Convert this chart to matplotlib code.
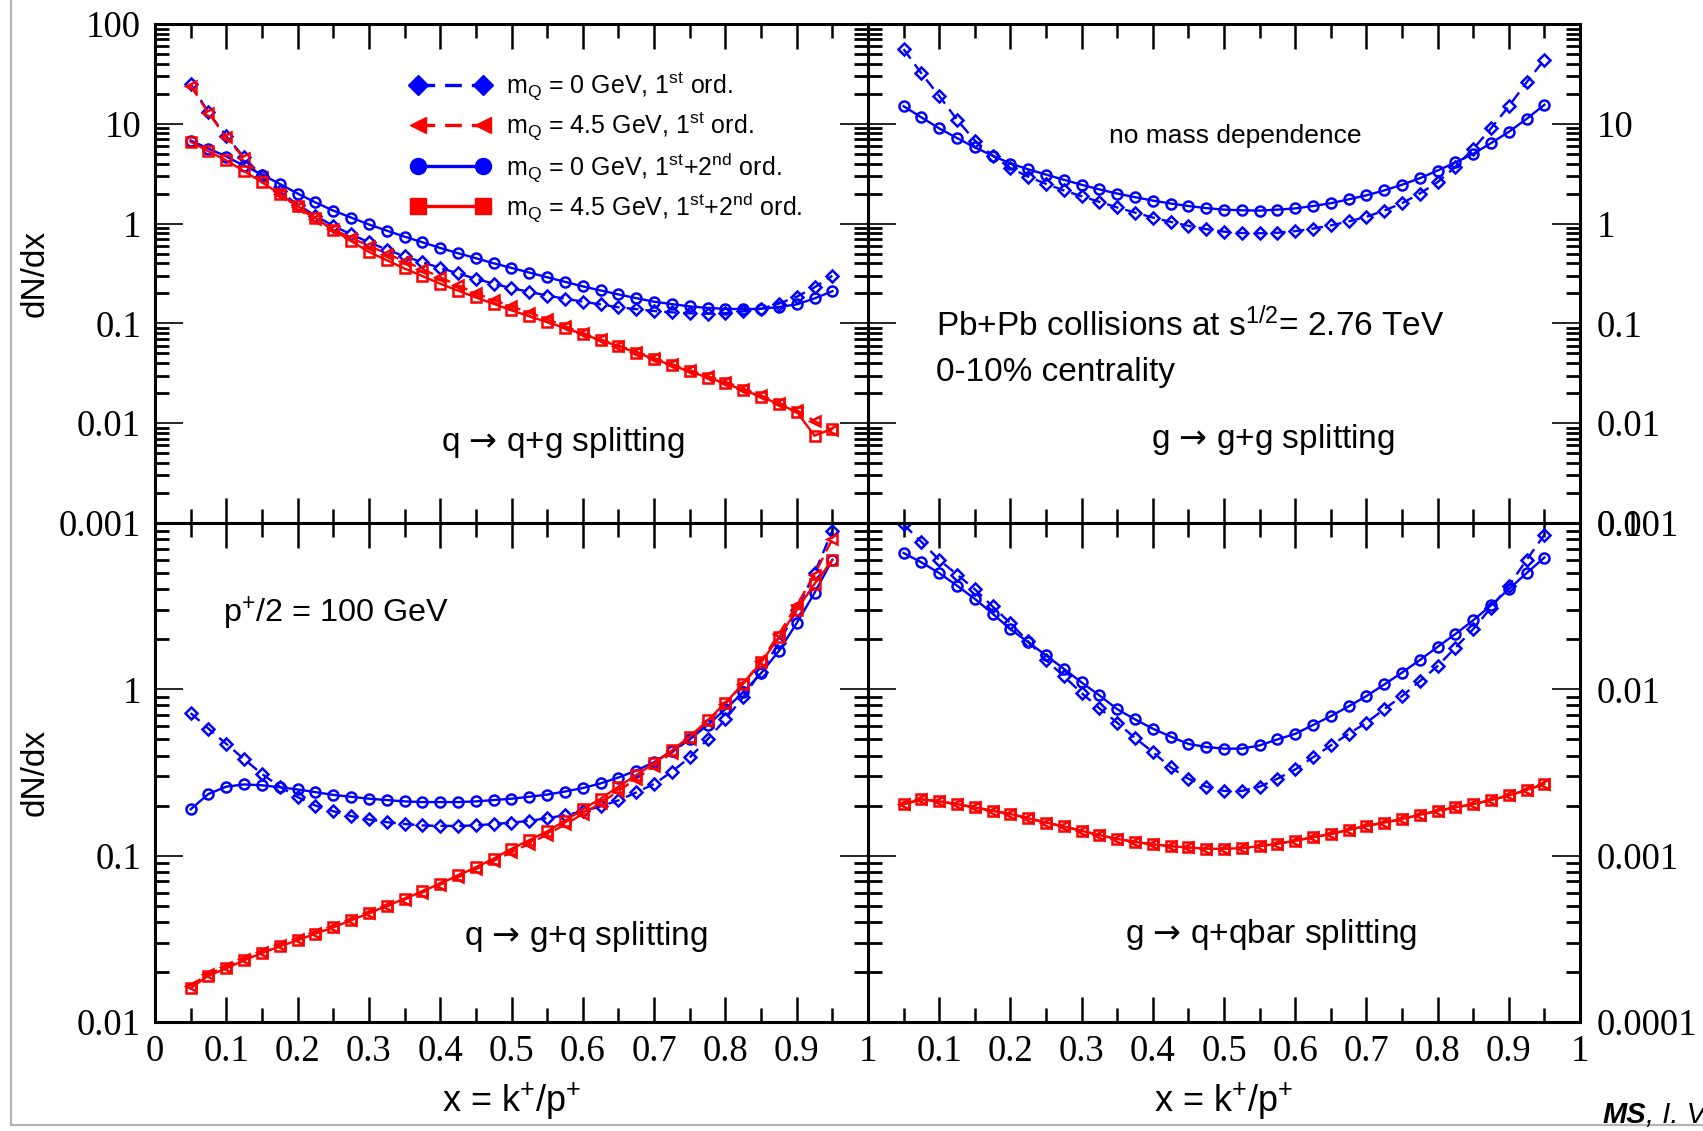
import numpy as np
import matplotlib
matplotlib.use("Agg")
import matplotlib.pyplot as plt
from matplotlib.lines import Line2D
from matplotlib.ticker import LogLocator, MultipleLocator, FuncFormatter, NullFormatter

plt.rcParams["font.family"] = ["Liberation Sans", "DejaVu Sans"]
plt.rcParams["mathtext.fontset"] = "custom"
plt.rcParams["mathtext.rm"] = "Liberation Sans"
plt.rcParams["mathtext.it"] = "Liberation Sans:italic"
plt.rcParams["mathtext.bf"] = "Liberation Sans:bold"
plt.rcParams["mathtext.sf"] = "DejaVu Sans"

# momentum fraction grid
x = [0.05, 0.075, 0.1, 0.125, 0.15, 0.175, 0.2, 0.225, 0.25, 0.275, 0.3, 0.325,
     0.35, 0.375, 0.4, 0.425, 0.45, 0.475, 0.5, 0.525, 0.55, 0.575, 0.6, 0.625,
     0.65, 0.675, 0.7, 0.725, 0.75, 0.775, 0.8, 0.825, 0.85, 0.875, 0.9, 0.925, 0.95]

# q -> q+g
qqg_m0_1st = [25, 13, 7.5, 4.6, 3.0, 2.1, 1.55, 1.2, 0.95, 0.78, 0.65, 0.55, 0.47, 0.41,
              0.36, 0.317, 0.28, 0.25, 0.225, 0.207, 0.19, 0.177, 0.165, 0.155, 0.145,
              0.139, 0.133, 0.129, 0.126, 0.125, 0.127, 0.132, 0.14, 0.158, 0.185, 0.23, 0.30]
qqg_m45_1st = [24, 12.8, 7.3, 4.5, 2.9, 2.0, 1.45, 1.12, 0.88, 0.72, 0.6, 0.5, 0.42, 0.35,
               0.29, 0.24, 0.2, 0.172, 0.148, 0.128, 0.11, 0.094, 0.08, 0.069, 0.06, 0.052,
               0.045, 0.039, 0.034, 0.0297, 0.026, 0.0222, 0.019, 0.016, 0.0135, 0.0105, 0.0085]
qqg_m0_12 = [6.8, 5.65, 4.7, 3.8, 3.1, 2.5, 2.0, 1.63, 1.35, 1.15, 0.98, 0.85, 0.74, 0.65,
             0.57, 0.505, 0.45, 0.40, 0.36, 0.323, 0.29, 0.261, 0.235, 0.214, 0.195, 0.179,
             0.165, 0.156, 0.148, 0.143, 0.14, 0.139, 0.14, 0.146, 0.155, 0.178, 0.21]
qqg_m45_12 = [6.6, 5.3, 4.3, 3.35, 2.6, 1.98, 1.5, 1.14, 0.86, 0.67, 0.52, 0.43, 0.355, 0.298,
              0.25, 0.213, 0.182, 0.157, 0.135, 0.118, 0.103, 0.09, 0.078, 0.068, 0.059, 0.051,
              0.044, 0.038, 0.033, 0.0287, 0.025, 0.0215, 0.0185, 0.0155, 0.013, 0.0075, 0.0088]

# g -> g+g (identical for both masses)
ggg_1st = [56, 32, 19, 11, 6.8, 4.8, 3.6, 2.95, 2.5, 2.15, 1.88, 1.65, 1.45, 1.29, 1.15, 1.04,
           0.95, 0.88, 0.83, 0.805, 0.8, 0.81, 0.84, 0.89, 0.96, 1.05, 1.17, 1.35, 1.6, 2.0,
           2.6, 3.7, 5.6, 9.0, 15, 26, 44]
ggg_12 = [15, 11.6, 9.0, 7.2, 5.8, 4.8, 4.0, 3.5, 3.1, 2.75, 2.45, 2.2, 2.0, 1.84, 1.7, 1.59,
          1.5, 1.43, 1.38, 1.36, 1.35, 1.38, 1.42, 1.5, 1.6, 1.75, 1.92, 2.15, 2.45, 2.85,
          3.4, 4.1, 5.0, 6.4, 8.3, 11.2, 15.5]

# q -> g+q
qgq_m0_1st = [0.72, 0.58, 0.47, 0.38, 0.31, 0.26, 0.225, 0.2, 0.185, 0.173, 0.165, 0.159,
              0.155, 0.152, 0.151, 0.151, 0.152, 0.155, 0.158, 0.162, 0.168, 0.175, 0.185,
              0.198, 0.215, 0.24, 0.27, 0.32, 0.39, 0.5, 0.66, 0.9, 1.28, 1.9, 3.0, 5.0, 9.0]
qgq_m45_1st = [0.0165, 0.0195, 0.0215, 0.024, 0.0265, 0.029, 0.0315, 0.0345, 0.0375, 0.041,
               0.045, 0.0495, 0.0545, 0.06, 0.067, 0.074, 0.083, 0.093, 0.105, 0.118, 0.134,
               0.154, 0.178, 0.207, 0.245, 0.29, 0.345, 0.415, 0.505, 0.635, 0.82, 1.08, 1.48,
               2.15, 3.2, 4.9, 8.0]
qgq_m0_12 = [0.19, 0.235, 0.26, 0.268, 0.265, 0.258, 0.25, 0.241, 0.232, 0.226, 0.22, 0.216,
             0.212, 0.21, 0.21, 0.21, 0.212, 0.216, 0.22, 0.226, 0.233, 0.243, 0.255, 0.272,
             0.295, 0.325, 0.365, 0.425, 0.5, 0.61, 0.76, 0.96, 1.25, 1.7, 2.5, 3.8, 6.0]
qgq_m45_12 = [0.016, 0.019, 0.021, 0.0235, 0.026, 0.0285, 0.031, 0.034, 0.037, 0.041, 0.045,
              0.05, 0.055, 0.061, 0.068, 0.076, 0.085, 0.096, 0.11, 0.124, 0.14, 0.162, 0.19,
              0.22, 0.26, 0.305, 0.36, 0.43, 0.52, 0.65, 0.83, 1.08, 1.45, 2.05, 3.0, 4.3, 6.0]

# g -> q+qbar
gqq_m0_1st = [0.098, 0.077, 0.06, 0.049, 0.04, 0.0315, 0.025, 0.0194, 0.015, 0.012, 0.0095,
              0.0077, 0.0063, 0.0051, 0.0042, 0.0034, 0.0029, 0.0026, 0.00245, 0.00245, 0.0026,
              0.0029, 0.0033, 0.0039, 0.0046, 0.0054, 0.0063, 0.0076, 0.0091, 0.0112, 0.0138,
              0.0178, 0.023, 0.031, 0.042, 0.06, 0.085]
gqq_m0_12 = [0.066, 0.058, 0.05, 0.042, 0.035, 0.0285, 0.023, 0.0192, 0.016, 0.0133, 0.011,
             0.0092, 0.0076, 0.0066, 0.0058, 0.0052, 0.0047, 0.0045, 0.0044, 0.0044, 0.0046,
             0.005, 0.0054, 0.0061, 0.0069, 0.0079, 0.0091, 0.0107, 0.0126, 0.015, 0.018,
             0.0215, 0.026, 0.032, 0.04, 0.05, 0.062]
gqq_m45 = [0.00204, 0.00218, 0.00212, 0.00204, 0.00195, 0.00186, 0.00178, 0.00168, 0.00158,
           0.0015, 0.00141, 0.00133, 0.00126, 0.00121, 0.00117, 0.00114, 0.00112, 0.0011,
           0.0011, 0.00111, 0.00114, 0.00118, 0.00123, 0.00129, 0.00135, 0.00143, 0.00151,
           0.00158, 0.00166, 0.00176, 0.00186, 0.00195, 0.00204, 0.00216, 0.0023, 0.00248,
           0.0027]

legend_labels = [
    r"m$_{\mathregular{Q}}$ = 0 GeV, 1$^{\mathregular{st}}$ ord.",
    r"m$_{\mathregular{Q}}$ = 4.5 GeV, 1$^{\mathregular{st}}$ ord.",
    r"m$_{\mathregular{Q}}$ = 0 GeV, 1$^{\mathregular{st}}$+2$^{\mathregular{nd}}$ ord.",
    r"m$_{\mathregular{Q}}$ = 4.5 GeV, 1$^{\mathregular{st}}$+2$^{\mathregular{nd}}$ ord.",
]

STYLE = {
    "m0_1st": dict(color="#0000ff", ls=(0, (5, 3)), marker="D", ms=6.2),
    "m45_1st": dict(color="#ff0000", ls=(0, (5, 3)), marker="<", ms=7.5),
    "m0_12": dict(color="#0000ff", ls="-", marker="o", ms=7.2),
    "m45_12": dict(color="#ff0000", ls="-", marker="s", ms=7.0),
}

W, H = 1703, 1131


def box(l, t, r, b):
    return [l / W, 1 - b / H, (r - l) / W, (b - t) / H]


fig = plt.figure(figsize=(W / 100, H / 100), dpi=100)
fig.patch.set_facecolor("white")

ax_tl = fig.add_axes(box(155, 24, 868, 523))
ax_tr = fig.add_axes(box(868, 24, 1580, 523))
ax_bl = fig.add_axes(box(155, 523, 868, 1022))
ax_br = fig.add_axes(box(868, 523, 1580, 1022))

SERIF = "Liberation Serif"
TICK_FS = 26.5


def log_label(v, top_skip=None):
    if top_skip is not None and np.isclose(v, top_skip):
        return ""
    if v >= 1:
        return f"{v:.0f}"
    return f"{v:.{int(round(-np.log10(v)))}f}"


def style_axes(ax, ylim, label_side, skip_top, xlabels, skip_zero):
    ax.set_xlim(0, 1)
    ax.set_yscale("log")
    ax.set_ylim(*ylim)
    for sp in ax.spines.values():
        sp.set_linewidth(2.2)
    ax.xaxis.set_major_locator(MultipleLocator(0.1))
    ax.xaxis.set_minor_locator(MultipleLocator(0.05))
    ax.yaxis.set_major_locator(LogLocator(base=10, numticks=12))
    ax.yaxis.set_minor_locator(LogLocator(base=10, subs=np.arange(2, 10), numticks=12))
    ax.yaxis.set_minor_formatter(NullFormatter())
    ax.tick_params(which="both", direction="in", top=True, bottom=True, left=True, right=True)
    ax.tick_params(axis="x", which="major", length=18, width=1.8)
    ax.tick_params(axis="x", which="minor", length=10, width=1.8)
    ax.tick_params(axis="y", which="major", length=20, width=1.2)
    ax.tick_params(axis="y", which="minor", length=10, width=2.0)
    top_val = ylim[1] if skip_top else None
    ax.yaxis.set_major_formatter(FuncFormatter(lambda v, p: log_label(v, top_val)))
    if label_side == "left":
        ax.tick_params(axis="y", labelleft=True, labelright=False, pad=10)
    else:
        ax.tick_params(axis="y", labelleft=False, labelright=True, pad=12)
    if xlabels:
        def xfmt(v, p):
            if skip_zero and abs(v) < 1e-9:
                return ""
            if abs(v) < 1e-9:
                return "0"
            if abs(v - 1) < 1e-9:
                return "1"
            return f"{v:.1f}"
        ax.xaxis.set_major_formatter(FuncFormatter(xfmt))
        ax.tick_params(axis="x", labelbottom=True, pad=9)
    else:
        ax.tick_params(axis="x", labelbottom=False)
    ax.tick_params(labelsize=TICK_FS)
    for lab in ax.get_xticklabels() + ax.get_yticklabels():
        lab.set_fontfamily(SERIF)


def draw(ax, pairs):
    for key, y in pairs:
        st = STYLE[key]
        ax.plot(x, y, color=st["color"], ls=st["ls"], lw=1.7, marker=st["marker"],
                ms=st["ms"], mfc="none", mec=st["color"], mew=1.8)


draw(ax_tl, [("m0_1st", qqg_m0_1st), ("m45_1st", qqg_m45_1st),
             ("m0_12", qqg_m0_12), ("m45_12", qqg_m45_12)])
draw(ax_tr, [("m0_1st", ggg_1st), ("m0_12", ggg_12)])
draw(ax_bl, [("m0_1st", qgq_m0_1st), ("m45_1st", qgq_m45_1st),
             ("m0_12", qgq_m0_12), ("m45_12", qgq_m45_12)])
draw(ax_br, [("m0_1st", gqq_m0_1st), ("m45_1st", gqq_m45),
             ("m0_12", gqq_m0_12), ("m45_12", gqq_m45)])

style_axes(ax_tl, (1e-3, 1e2), "left", False, False, False)
style_axes(ax_tr, (1e-3, 1e2), "right", True, False, False)
style_axes(ax_bl, (1e-2, 1e1), "left", True, True, False)
style_axes(ax_br, (1e-4, 1e-1), "right", False, True, True)

for ax in (ax_tl, ax_tr, ax_bl, ax_br):
    for lab in ax.get_xticklabels() + ax.get_yticklabels():
        lab.set_fontfamily(SERIF)

# axis titles
for ax in (ax_tl, ax_bl):
    ax.set_ylabel("dN/dx", fontsize=24)
    ax.yaxis.set_label_coords(-0.147, 0.5)
for ax in (ax_bl, ax_br):
    ax.set_xlabel(r"x = k$^{\mathregular{+}}$/p$^{\mathregular{+}}$", fontsize=26)
    ax.xaxis.set_label_coords(0.5, -0.118)

# legend
LEG_FS = 18
handles = []
for key in ("m0_1st", "m45_1st", "m0_12", "m45_12"):
    st = STYLE[key]
    handles.append(Line2D([], [], color=st["color"], ls=st["ls"], lw=2.4,
                          marker=st["marker"], ms=st["ms"] * 1.6, mfc=st["color"],
                          mec=st["color"], mew=1.0))
ax_tl.legend(handles, legend_labels, loc="upper left", bbox_to_anchor=(410 / W, 1 - 71 / H),
             bbox_transform=fig.transFigure, frameon=False, fontsize=LEG_FS, numpoints=2,
             handlelength=3.2, handletextpad=0.62, labelspacing=0.28, borderpad=0,
             borderaxespad=0)


def ftext(px, py, s, **kw):
    fig.text(px / W, 1 - py / H, s, **kw)


ARROW = r"$\mathsf{→}$"
ftext(563, 442, f"q {ARROW} q+g splitting", fontsize=24, ha="center", va="center")
ftext(1235, 136, "no mass dependence", fontsize=19, ha="center", va="center")
ftext(936, 325, r"Pb+Pb collisions at s$^{\mathregular{1/2}}$= 2.76 TeV", fontsize=24,
      ha="left", va="center")
ftext(936, 373, "0-10% centrality", fontsize=24, ha="left", va="center")
ftext(1273, 440, f"g {ARROW} g+g splitting", fontsize=24, ha="center", va="center")
ftext(223, 614, r"p$^{\mathregular{+}}$/2 = 100 GeV", fontsize=23.3, ha="left", va="center")
ftext(586, 937, f"q {ARROW} g+q splitting", fontsize=24, ha="center", va="center")
ftext(1271, 935, f"g {ARROW} q+qbar splitting", fontsize=24, ha="center", va="center")

# page frame lines
fig.add_artist(Line2D([11 / W, 11 / W], [1, 1 - 1125 / H], color="#b4b4b4", lw=1.6,
                      transform=fig.transFigure))
fig.add_artist(Line2D([11 / W, 1], [1 - 1125 / H, 1 - 1125 / H], color="#b4b4b4", lw=1.6,
                      transform=fig.transFigure))

t1 = fig.text(1602 / W, 1 - 1115 / H, "MS", fontsize=21, fontweight="bold",
              fontstyle="italic", ha="left", va="center")
fig.canvas.draw()
bb = t1.get_window_extent()
fig.text(bb.x1 / W, 1 - 1115 / H, ", I. V", fontsize=21, fontstyle="italic",
         ha="left", va="center")

fig.savefig("out.png", dpi=100, facecolor="white")
